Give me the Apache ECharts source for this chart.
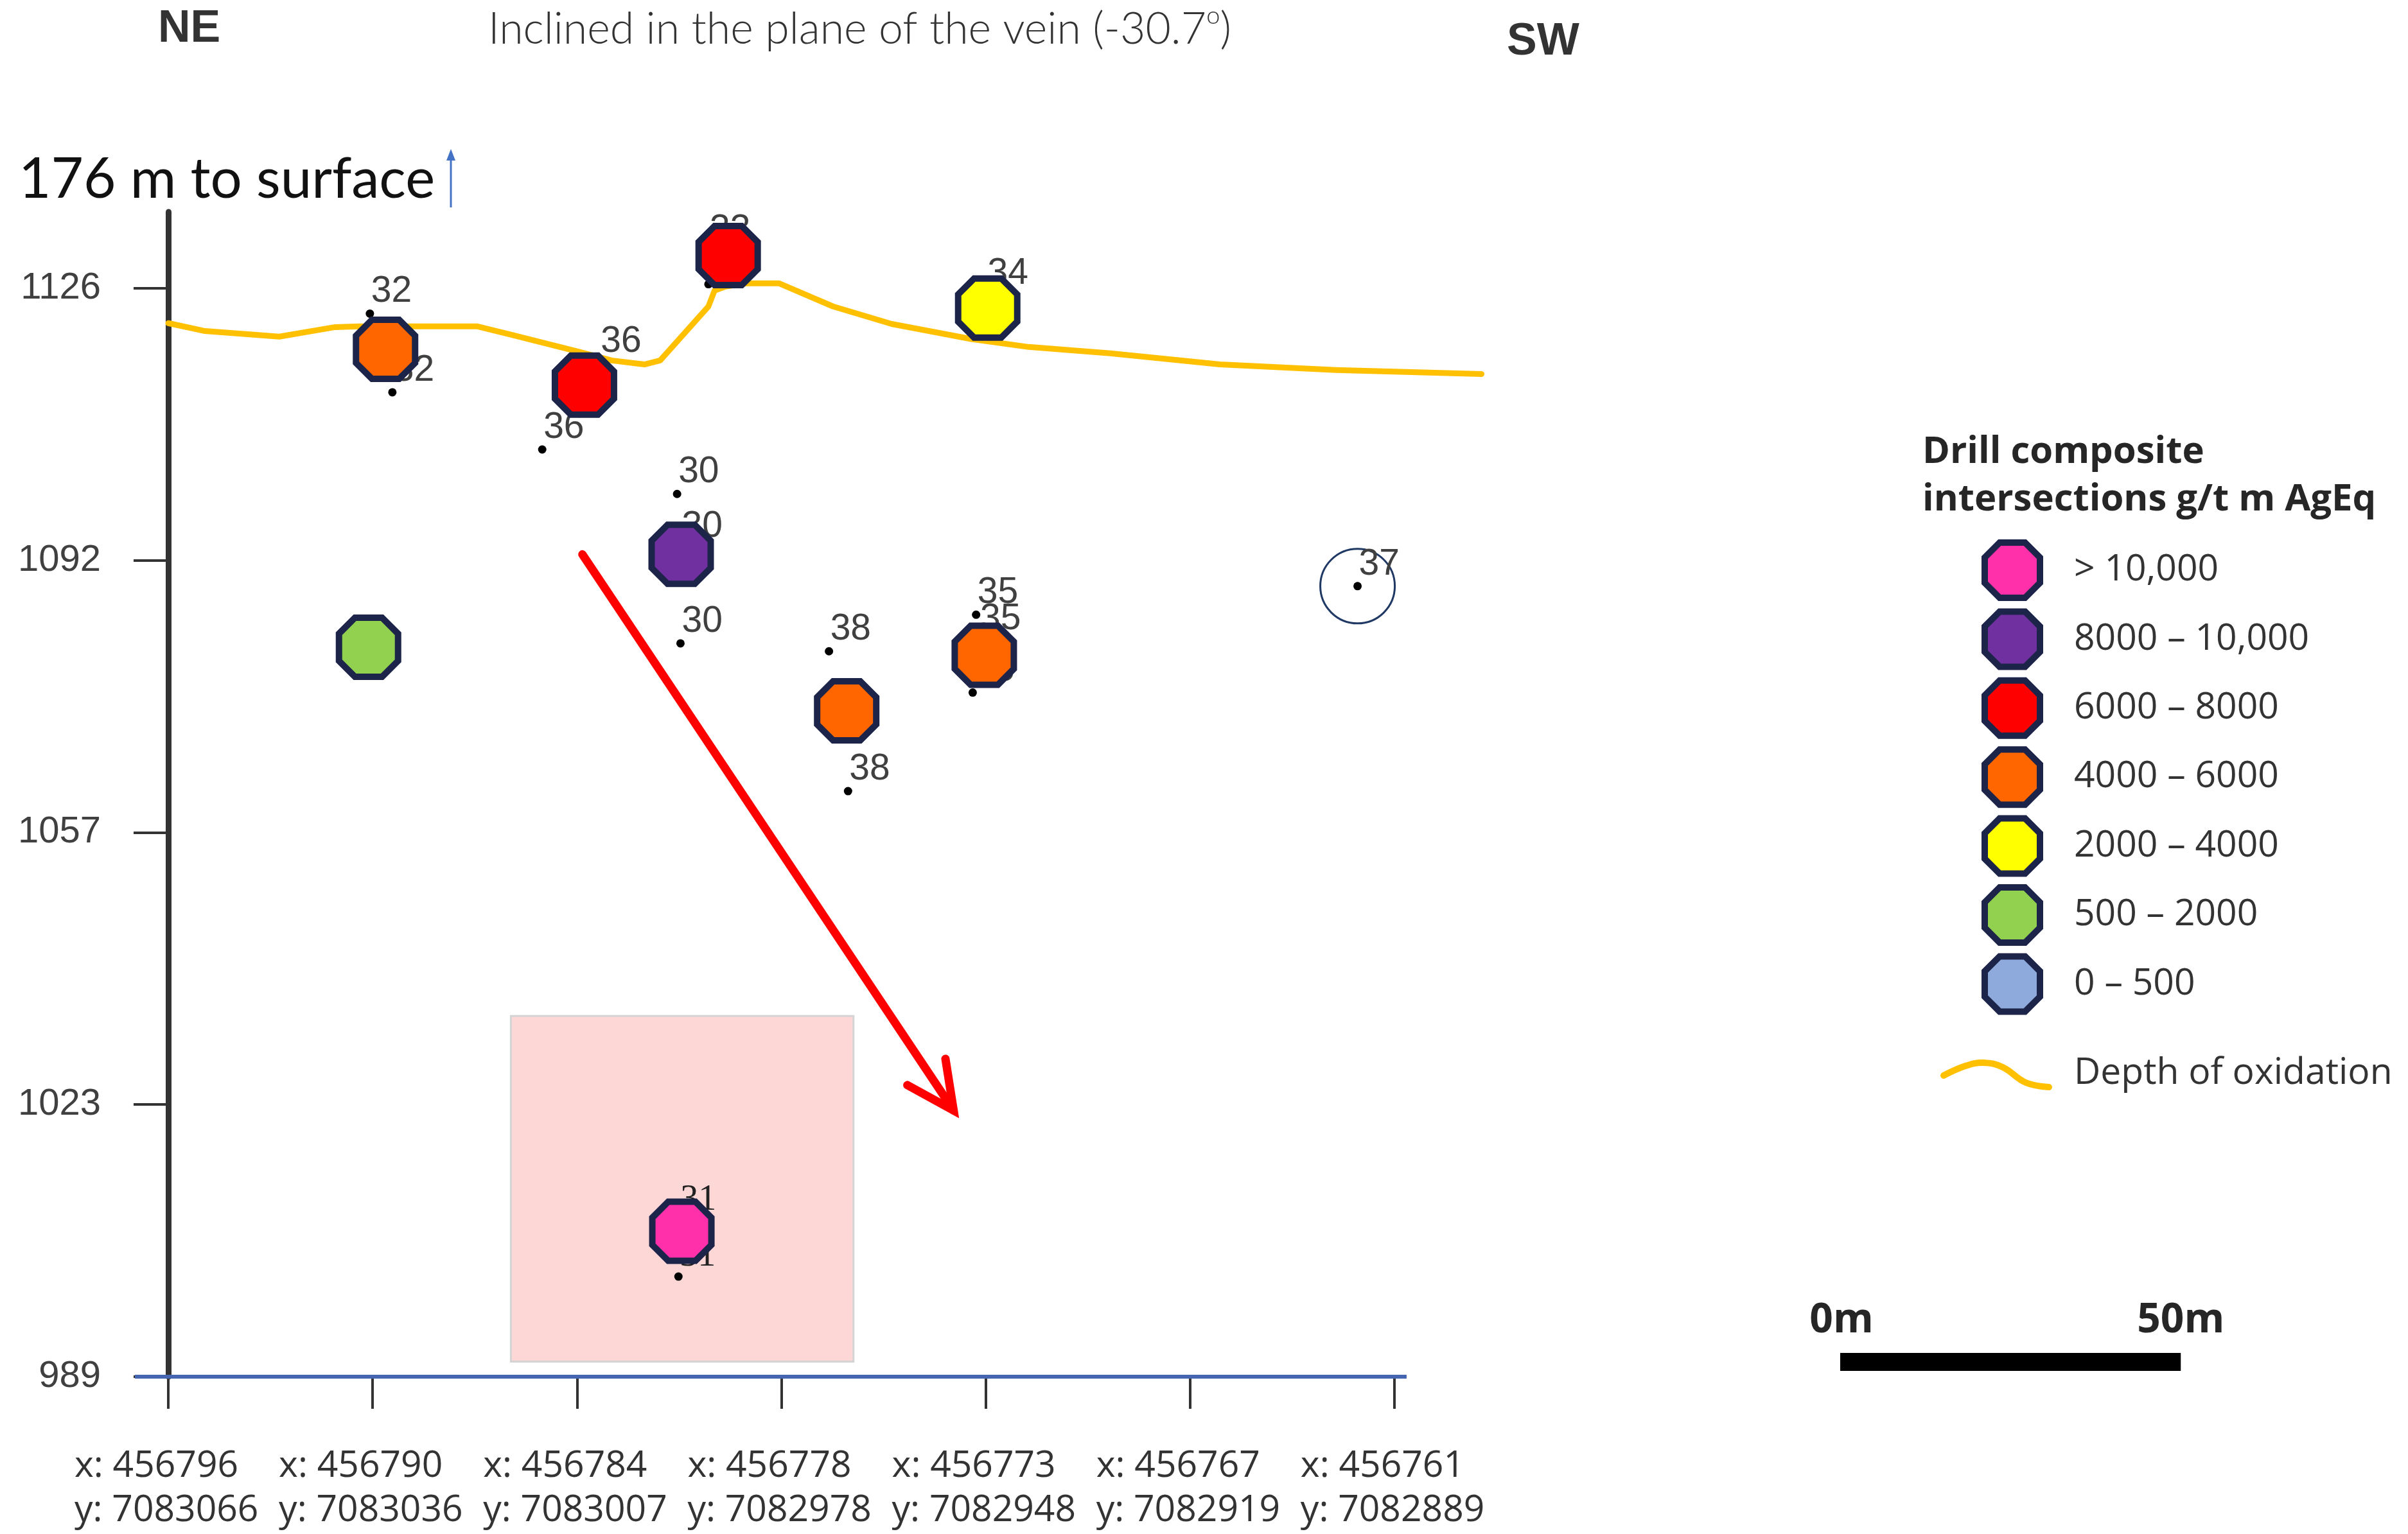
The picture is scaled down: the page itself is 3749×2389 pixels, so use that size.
<!DOCTYPE html>
<html><head><meta charset="utf-8">
<script src="https://cdn.jsdelivr.net/npm/echarts@6/dist/echarts.min.js"></script>
<style>html,body{margin:0;padding:0;background:#fff}#c{width:3749px;height:2389px}</style>
</head><body><div id="c"></div>
<script>
// ---------- axis ticks ----------
const xTickValues = [0, 30, 60, 90, 120, 150, 180];            // metres along section
const xTickEastings = ['456796','456790','456784','456778','456773','456767','456761'];
const xTickNorthings = ['7083066','7083036','7083007','7082978','7082948','7082919','7082889'];
const yTickValues = [989, 1023.25, 1057.5, 1091.75, 1126];       // elevation (m)
const yTickLabels = ['989','1023','1057','1092','1126'];
const xAxisLineExtent = [-4.9, 181.8];                           // drawn extent of the section axis

// ---------- grade classes (g/t m AgEq) ----------
const gradeClasses = ['> 10,000','8000 – 10,000','6000 – 8000','4000 – 6000','2000 – 4000','500 – 2000','0 – 500'];
const gradeColors  = ['#FF30AA','#7030A0','#FF0000','#FF6600','#FFFF00','#92D050','#8EA9DB'];

// composite intersections [distance m, elevation m]
const intersGt10000 = [[75.4, 1007.3]];
const inters8000    = [[75.3, 1092.5]];
const inters6000    = [[61.1, 1113.8], [82.2, 1130.1]];
const inters4000    = [[31.9, 1118.3], [99.6, 1072.8], [119.8, 1079.8]];
const inters2000    = [[120.3, 1123.5]];
const inters500     = [[29.4, 1080.8]];
const inters0       = [];

// depth of oxidation
const oxidationX = [0, 5.4, 16.3, 24.5, 28.1, 45.3, 50.1, 60.3, 65.1, 69.9, 72.2, 79.3, 80.2, 81.8, 84.9, 89.7, 97.6, 106.2, 117.9, 126.3, 138.3, 154.4, 171.4, 192.8];
const oxidationY = [1121.6, 1120.6, 1119.9, 1121.1, 1121.2, 1121.2, 1120.2, 1118.0, 1116.9, 1116.4, 1116.9, 1123.7, 1125.7, 1126.2, 1126.6, 1126.6, 1123.7, 1121.5, 1119.6, 1118.6, 1117.8, 1116.4, 1115.7, 1115.2];

// drill hole pierce points
const holeLabels = ['32','32','36','36','33','33','34','30','30','30','38','38','35','35','35','37'];
const holeX = [29.6, 32.9, 63.3, 54.9, 79.3, 79.3, 120.1, 74.7, 75.2, 75.2, 97.0, 99.8, 118.6, 119.0, 118.1, 174.6];
const holeY = [1122.8, 1112.9, 1116.5, 1105.7, 1130.6, 1126.5, 1125.1, 1100.1, 1093.2, 1081.3, 1080.3, 1062.7, 1084.9, 1081.6, 1075.1, 1088.5];
const holeSerifLabels = ['31','31'];
const holeSerifX = [75.0, 74.9];
const holeSerifY = [1008.6, 1001.6];

// annotations (data units)
const highlightBox = [[50.3, 1034.4], [100.6, 990.9]];
const trendArrowShaft = [[60.8, 1092.5], [115.3, 1022.5]];
const trendArrowHead = [[108.5, 1025.7], [115.3, 1022.5], [114.1, 1029.0]];
const circledHole = [[174.6, 1088.5]];

// ---------- rendering ----------
const octagon = 'path://M46,-100L100,-46L100,46L46,100L-46,100L-100,46L-100,-46L-46,-100Z';
const LABEL_FONT = "'Liberation Sans',Arial,sans-serif";
const gradeData = [intersGt10000, inters8000, inters6000, inters4000, inters2000, inters500, inters0];

const chart = echarts.init(document.getElementById('c'), null, {renderer: 'canvas', width: 3749, height: 2389});

const series = [
  { type: 'scatter', data: [], z: 1, silent: true, clip: false,
    markArea: { silent: true, itemStyle: { color: '#FDD6D6', borderColor: '#D4D4D4', borderWidth: 3 },
      data: [[{ coord: highlightBox[0] }, { coord: highlightBox[1] }]] },
    markLine: { silent: true, symbol: ['none', 'none'], label: { show: false },
      lineStyle: { color: '#4565B0', width: 6, type: 'solid' },
      data: [[{ coord: [xAxisLineExtent[0], yTickValues[0]] }, { coord: [xAxisLineExtent[1], yTickValues[0]] }]] } },
  { type: 'line', name: 'Depth of oxidation', z: 2, silent: true, clip: false, showSymbol: false, symbol: 'none',
    data: oxidationX.map((x, i) => [x, oxidationY[i]]),
    lineStyle: { color: '#FFC000', width: 9, join: 'round', cap: 'round' } },
  { type: 'line', z: 3, silent: true, clip: false, showSymbol: false, symbol: 'none', data: trendArrowShaft,
    lineStyle: { color: '#FF0000', width: 13, cap: 'round' } },
  { type: 'line', z: 3, silent: true, clip: false, showSymbol: false, symbol: 'none', data: trendArrowHead,
    lineStyle: { color: '#FF0000', width: 13, cap: 'round', join: 'miter' } },
  { type: 'scatter', z: 3, silent: true, data: circledHole, symbol: 'circle', symbolSize: 116,
    itemStyle: { color: 'rgba(0,0,0,0)', borderColor: '#1F3864', borderWidth: 3, opacity: 1 } },
  { type: 'scatter', z: 4, silent: true, symbol: 'circle', symbolSize: 13, itemStyle: { color: '#000', opacity: 1 },
    data: holeX.map((x, i) => ({ name: holeLabels[i], value: [x, holeY[i]] })),
    label: { show: true, formatter: '{b}', position: 'inside', align: 'left', verticalAlign: 'bottom', offset: [2, -13],
      fontFamily: LABEL_FONT, fontSize: 57, lineHeight: 42, color: '#404040' } },
  { type: 'scatter', z: 4, silent: true, symbol: 'circle', symbolSize: 13, itemStyle: { color: '#000', opacity: 1 },
    data: holeSerifX.map((x, i) => ({ name: holeSerifLabels[i], value: [x, holeSerifY[i]] })),
    label: { show: true, formatter: '{b}', position: 'inside', align: 'left', verticalAlign: 'bottom', offset: [2, -13],
      fontFamily: "'Liberation Serif',serif", fontSize: 56, lineHeight: 38, color: '#222' } }
];
gradeClasses.forEach((name, i) => {
  series.push({ type: 'scatter', name: name, z: 5, silent: true, symbol: octagon, symbolSize: 92,
    itemStyle: { color: gradeColors[i], borderColor: '#1C2449', borderWidth: 10, opacity: 1 },
    data: gradeData[i] });
});

const option = {
  animation: false,
  backgroundColor: '#ffffff',
  grid: { left: 210, right: 1435, top: 330, bottom: 245, containLabel: false, outerBoundsMode: 'none', show: false },
  xAxis: {
    type: 'value', min: -4.9, max: 193.5,
    axisLine: { show: false, onZero: false },
    axisTick: { show: true, customValues: xTickValues, length: 50, inside: false, lineStyle: { color: '#333', width: 4 } },
    axisLabel: { show: true, customValues: xTickValues, margin: 105,
      formatter: function (v) {
        const i = xTickValues.findIndex(t => Math.abs(t - v) < 1e-6);
        if (i < 0) return '';
        return '{a|x: ' + xTickEastings[i] + '}\n{a|y: ' + xTickNorthings[i] + '}';
      },
      rich: { a: { width: 292, align: 'left', fontFamily: "'Open Sans'", fontSize: 57, lineHeight: 69, color: '#333' } } },
    splitLine: { show: false }
  },
  yAxis: {
    type: 'value', min: 989, max: 1135.6,
    axisLine: { show: true, onZero: true, lineStyle: { color: '#333', width: 9 } },
    axisTick: { show: true, customValues: yTickValues, length: 54, inside: false, lineStyle: { color: '#333', width: 4 } },
    axisLabel: { show: true, customValues: yTickValues, margin: 53, fontFamily: LABEL_FONT, fontSize: 58, color: '#404040',
      formatter: function (v) {
        const i = yTickValues.findIndex(t => Math.abs(t - v) < 1e-6);
        return i < 0 ? '' : yTickLabels[i];
      } },
    splitLine: { show: false }
  },
  legend: {
    show: true, data: gradeClasses, orient: 'vertical', left: 3085, top: 840, padding: 0,
    itemWidth: 86, itemHeight: 86, itemGap: 11.4, icon: octagon, symbolKeepAspect: true, selectedMode: false,
    itemStyle: { borderWidth: 10, borderColor: '#1C2449' },
    textStyle: { fontFamily: "'Open Sans'", fontSize: 57, lineHeight: 60, color: '#333', padding: [0, 0, 10, 48] }
  },
  series: series
};
chart.setOption(option);

const px0 = chart.convertToPixel({ xAxisIndex: 0 }, 0);
const px50 = chart.convertToPixel({ xAxisIndex: 0 }, 50);
const barLen = px50 - px0;

chart.setOption({
  graphic: [
    { type: 'text', x: 246, y: 46, style: { text: 'NE', font: 'bold 70px "Liberation Sans"', fill: '#333', align: 'left', verticalAlign: 'middle' } },
    { type: 'text', x: 2346, y: 66, style: { text: 'SW', font: 'bold 70px "Liberation Sans"', fill: '#333', align: 'left', verticalAlign: 'middle' } },
    { type: 'text', x: 760, y: 46, style: {
        text: '{a|Inclined in the plane of the vein (-30.7}{s|o}{a|)}', align: 'left', verticalAlign: 'middle',
        rich: { a: { fontFamily: 'Lato', fontWeight: 300, fontSize: 68, lineHeight: 80, fill: '#333' },
                s: { fontFamily: 'Lato', fontWeight: 300, fontSize: 38, lineHeight: 80, verticalAlign: 'top', fill: '#333' } } } },
    { type: 'text', x: 29, y: 280, style: { text: '176 m to surface', font: '87px Lato', fill: '#111', align: 'left', verticalAlign: 'middle' } },
    { type: 'line', shape: { x1: 702, y1: 323, x2: 702, y2: 246 }, style: { stroke: '#4472C4', lineWidth: 3 } },
    { type: 'polygon', shape: { points: [[702, 232], [695, 250], [709, 250]] }, style: { fill: '#4472C4' } },
    { type: 'text', x: 2993, y: 704, style: { text: 'Drill composite', font: 'bold 58px "Open Sans"', fill: '#262626', align: 'left', verticalAlign: 'middle' } },
    { type: 'text', x: 2993, y: 778, style: { text: 'intersections g/t m AgEq', font: 'bold 58px "Open Sans"', fill: '#262626', align: 'left', verticalAlign: 'middle' } },
    { type: 'polyline', shape: { points: [[3026, 1675], [3060, 1660], [3088, 1655], [3118, 1662], [3154, 1686], [3190, 1693]], smooth: 0.4 },
      style: { stroke: '#FFC000', lineWidth: 10, lineCap: 'round', fill: null } },
    { type: 'text', x: 3229, y: 1672, style: { text: 'Depth of oxidation', font: '57px "Open Sans"', fill: '#333', align: 'left', verticalAlign: 'middle' } },
    { type: 'text', x: 2867, y: 2057, style: { text: '0m', font: 'bold 64px "Open Sans"', fill: '#262626', align: 'center', verticalAlign: 'middle' } },
    { type: 'text', x: 2865 + barLen, y: 2057, style: { text: '50m', font: 'bold 64px "Open Sans"', fill: '#262626', align: 'center', verticalAlign: 'middle' } },
    { type: 'rect', shape: { x: 2865, y: 2107, width: barLen, height: 28 }, style: { fill: '#000' } }
  ]
});
</script>
</body></html>
